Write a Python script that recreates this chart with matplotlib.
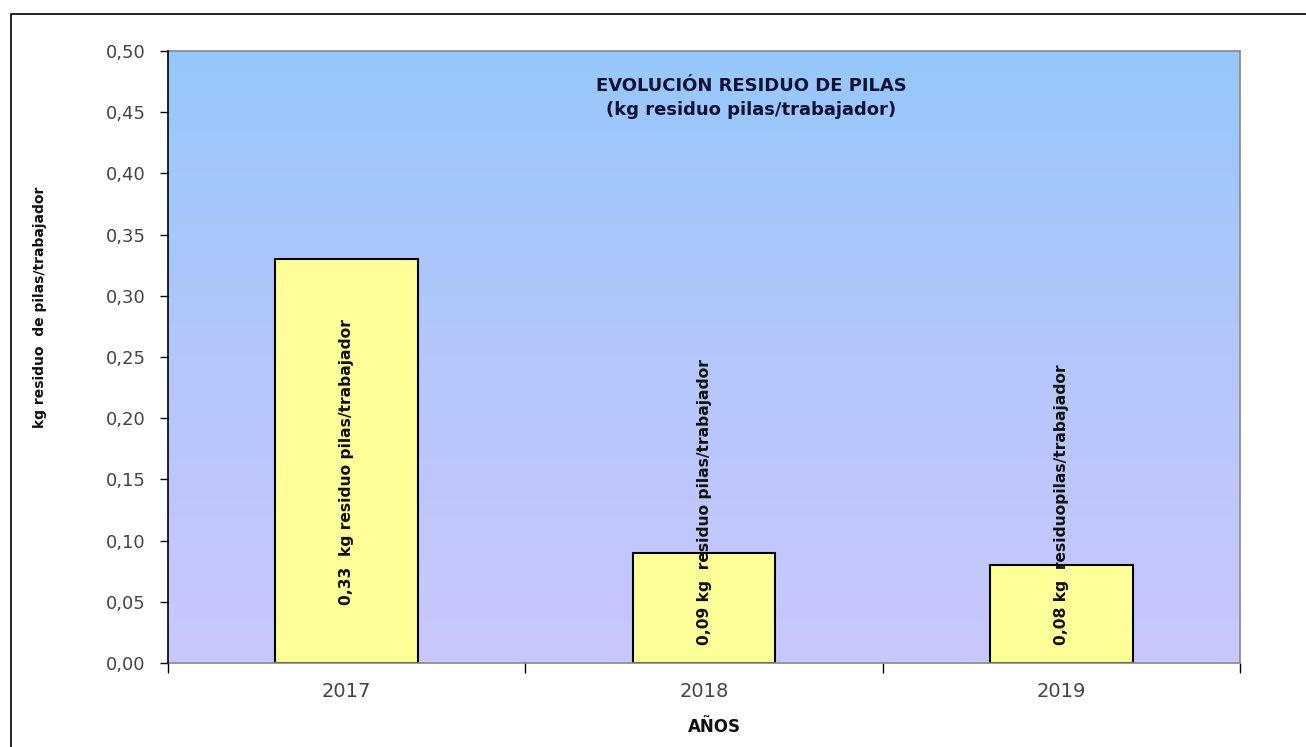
import numpy as np
import matplotlib
matplotlib.use("Agg")
import matplotlib.pyplot as plt
from matplotlib.patches import Rectangle
from matplotlib.colors import LinearSegmentedColormap

plt.rcParams['font.family'] = ['DejaVu Sans']

years = ["2017", "2018", "2019"]
values = [0.33, 0.09, 0.08]
bar_labels = ["0,33  kg residuo pilas/trabajador",
              "0,09 kg  residuo pilas/trabajador",
              "0,08 kg  residuopilas/trabajador"]
label_base = [0.047, 0.015, 0.015]
yticks = [0.0, 0.05, 0.10, 0.15, 0.20, 0.25, 0.30, 0.35, 0.40, 0.45, 0.50]

fig = plt.figure(figsize=(13.06, 7.47), dpi=100)
fig.patch.set_facecolor("white")

# outer frame of the chart object (cut at right/bottom)
fig.add_artist(Rectangle((11 / 1306, -0.1), 1.2, 1 - 14 / 747 + 0.1,
                         transform=fig.transFigure, fill=False,
                         edgecolor="black", linewidth=1.2))

ax = fig.add_axes([168 / 1306, 84 / 747, 1072 / 1306, 612 / 747])
x = np.arange(len(years))

# gradient background
cmap = LinearSegmentedColormap.from_list("bg", ["#c9c8fd", "#b4c6fb", "#96c8fa"])
grad = np.linspace(0, 1, 256).reshape(-1, 1)
ax.imshow(grad, aspect="auto", cmap=cmap, origin="lower",
          extent=[-0.5, 2.5, 0, 0.5], zorder=0)

ax.bar(x, values, width=0.4, color="#ffff99", edgecolor="black",
       linewidth=1.5, zorder=2)

for xi, lab, b in zip(x, bar_labels, label_base):
    ax.text(xi, b, lab, rotation=90, ha="center", va="bottom",
            fontsize=11.2, fontweight="semibold", color="#111111", zorder=3)

ax.set_xlim(-0.5, 2.5)
ax.set_ylim(0, 0.5)
ax.set_yticks(yticks)
ax.set_yticklabels([f"{v:.2f}".replace(".", ",") for v in yticks],
                   fontsize=13, color="#444444")
ax.set_xticks(x)
ax.set_xticklabels(years, fontsize=14, color="#444444")
ax.set_xticks([-0.5, 0.5, 1.5, 2.5], minor=True)
ax.tick_params(axis="x", which="major", length=0, pad=14)
ax.tick_params(axis="x", which="minor", length=7, width=1, color="black")
ax.tick_params(axis="y", length=6, width=1, color="black", pad=10)

for s in ["top", "right", "bottom"]:
    ax.spines[s].set_color("#888888")
    ax.spines[s].set_linewidth(1.2)
ax.spines["left"].set_color("black")
ax.spines["left"].set_linewidth(1.2)
ax.spines["left"].set_zorder(4)

fig.text(751 / 1306, 1 - 98 / 747,
         "EVOLUCIÓN RESIDUO DE PILAS\n(kg residuo pilas/trabajador)",
         ha="center", va="center", fontsize=13, fontweight="bold",
         color="#111133", linespacing=1.45)

fig.text(714 / 1306, 1 - 727 / 747, "AÑOS", ha="center", va="center",
         fontsize=12, fontweight="bold", color="#111111")
fig.text(40 / 1306, 1 - 307 / 747, "kg residuo  de pilas/trabajador",
         rotation=90, ha="center", va="center", fontsize=10,
         fontweight="bold", color="#111111")

fig.savefig("out.png", dpi=100)
